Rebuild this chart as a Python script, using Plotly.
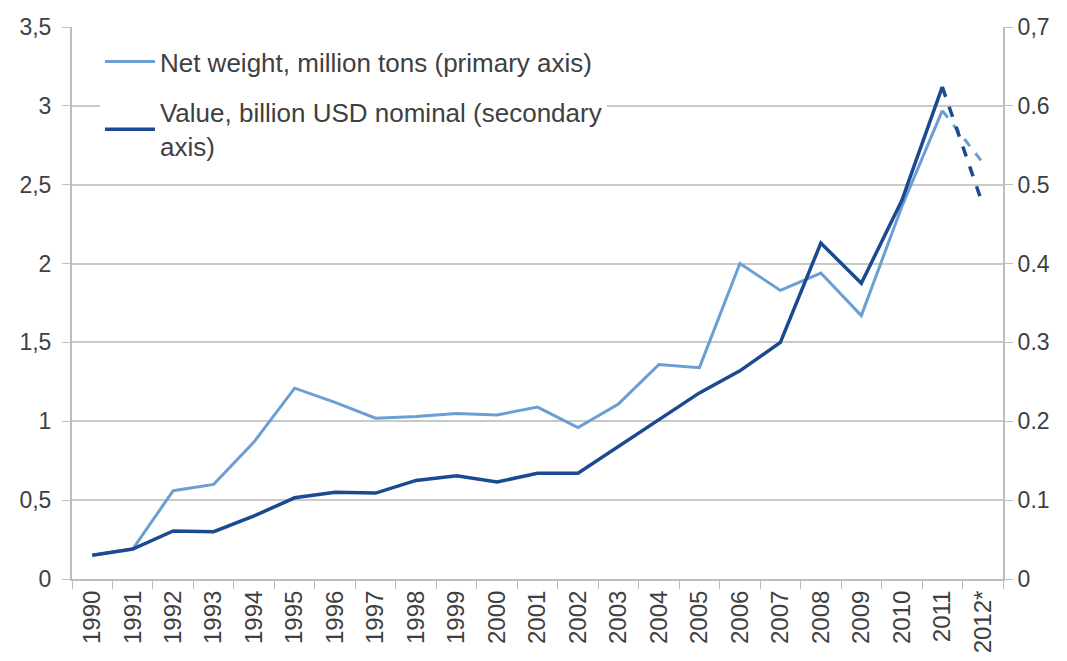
import plotly.graph_objects as go

years = ["1990", "1991", "1992", "1993", "1994", "1995", "1996", "1997", "1998", "1999",
         "2000", "2001", "2002", "2003", "2004", "2005", "2006", "2007", "2008", "2009",
         "2010", "2011", "2012*"]
net_weight = [0.15, 0.19, 0.56, 0.60, 0.87, 1.21, 1.12, 1.02, 1.03, 1.05,
              1.04, 1.09, 0.96, 1.11, 1.36, 1.34, 2.00, 1.83, 1.94, 1.67,
              2.36, 2.97, 2.64]
value_usd = [0.030, 0.038, 0.061, 0.060, 0.080, 0.103, 0.110, 0.109, 0.125, 0.131,
             0.123, 0.134, 0.134, 0.168, 0.203, 0.236, 0.264, 0.300, 0.426, 0.375,
             0.480, 0.624, 0.475]

left_vals = [0, 0.5, 1, 1.5, 2, 2.5, 3, 3.5]
left_text = ["0", "0,5", "1", "1,5", "2", "2,5", "3", "3,5"]
right_vals = [0, 0.1, 0.2, 0.3, 0.4, 0.5, 0.6, 0.7]
right_text = ["0", "0.1", "0.2", "0.3", "0.4", "0.5", "0.6", "0,7"]

LIGHT = "#6b9fd3"
DARK = "#1b4a91"
GRID = "#c9c9c9"
AXIS = "#bdbdbd"
TXT = "#404040"
FONT = "Liberation Sans, Arial, sans-serif"

fig = go.Figure()

# solid parts (all but projected last year)
fig.add_trace(go.Scatter(x=years[:-1], y=net_weight[:-1], mode="lines",
                         name="Net weight, million tons (primary axis)",
                         legendgroup="w",
                         line=dict(color=LIGHT, width=3), yaxis="y"))
fig.add_trace(go.Scatter(x=years[:-1], y=value_usd[:-1], mode="lines",
                         name="Value, billion USD nominal (secondary<br>axis)",
                         legendgroup="v",
                         line=dict(color=DARK, width=3.5), yaxis="y2"))
# dashed projection segments
fig.add_trace(go.Scatter(x=years[-2:], y=net_weight[-2:], mode="lines", showlegend=False,
                         legendgroup="w",
                         line=dict(color=LIGHT, width=3, dash="dash"), yaxis="y"))
fig.add_trace(go.Scatter(x=years[-2:], y=value_usd[-2:], mode="lines", showlegend=False,
                         legendgroup="v",
                         line=dict(color=DARK, width=3.5, dash="dash"), yaxis="y2"))

fig.update_layout(
    width=1067, height=661,
    margin=dict(l=72, r=64, t=27, b=82),
    paper_bgcolor="white", plot_bgcolor="white",
    font=dict(family=FONT, size=23, color=TXT),
    xaxis=dict(type="category", categoryorder="array", categoryarray=years,
               tickangle=-90, tickfont=dict(size=24), showgrid=False,
               showline=True, linecolor=AXIS, linewidth=2,
               ticks="outside", tickson="boundaries", ticklen=8, tickcolor=AXIS,
               range=[-0.5, len(years) - 0.5], automargin=False),
    yaxis=dict(range=[0, 3.5], tickvals=left_vals, ticktext=left_text,
               showgrid=True, gridcolor=GRID, gridwidth=2,
               showline=True, linecolor=AXIS, linewidth=2,
               ticks="outside", ticklen=8, tickcolor=AXIS, zeroline=False,
               ticklabelstandoff=6, automargin=False),
    yaxis2=dict(range=[0, 0.7], tickvals=right_vals, ticktext=right_text,
                overlaying="y", side="right", showgrid=False,
                showline=True, linecolor=AXIS, linewidth=2,
                ticks="outside", ticklen=8, tickcolor=AXIS, zeroline=False,
                automargin=False),
    legend=dict(x=0.03, y=0.98, xanchor="left", yanchor="top",
                bgcolor="white", font=dict(size=26, color=TXT),
                itemwidth=50, tracegroupgap=14, traceorder="grouped"),
    showlegend=True,
)

fig.write_html("out.html")
